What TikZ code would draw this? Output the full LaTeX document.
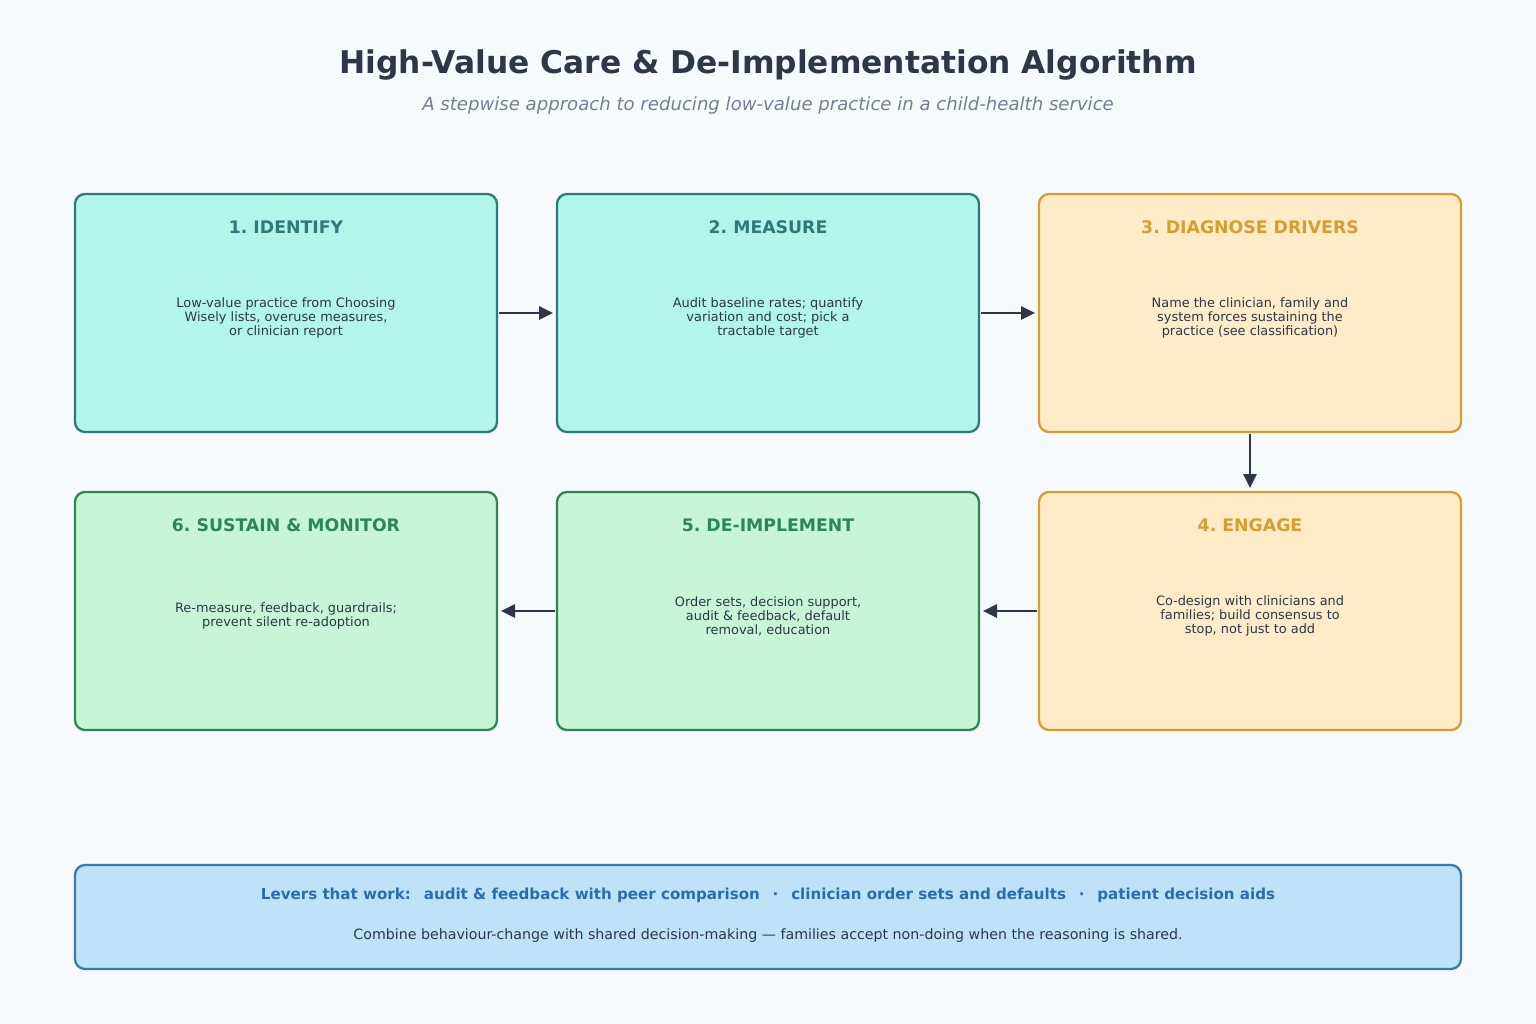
\documentclass[tikz,border=0pt]{standalone}
\usepackage{fontspec}
\setmainfont{DejaVu Sans}
\usetikzlibrary{positioning,arrows.meta,calc}
\frenchspacing

\definecolor{pagebg}{HTML}{F7FAFC}
\definecolor{inkdark}{HTML}{2D3748}
\definecolor{subgray}{HTML}{718096}
\definecolor{tealfill}{HTML}{B2F5EA}
\definecolor{tealline}{HTML}{2C7A7B}
\definecolor{amberfill}{HTML}{FEEBC8}
\definecolor{amberline}{HTML}{D69E2E}
\definecolor{greenfill}{HTML}{C6F6D5}
\definecolor{greenline}{HTML}{2F855A}
\definecolor{bluefill}{HTML}{BEE3F8}
\definecolor{blueline}{HTML}{3B78BE}
\definecolor{bluetext}{HTML}{2B6CB0}

\begin{document}
\begin{tikzpicture}[
    x=1pt, y=-1pt,
    font=\fontsize{12}{14}\selectfont,
    stepbox/.style={draw, rounded corners=10pt, line width=2.3pt, minimum width=422pt, minimum height=238pt, inner sep=0pt, outer sep=0pt},
    tealbox/.style={fill=tealfill, draw=tealline},
    amberbox/.style={fill=amberfill, draw=amberline},
    greenbox/.style={fill=greenfill, draw=greenline},
    steptitle/.style={font=\fontsize{17.3}{20}\selectfont\bfseries, inner sep=0pt},
    stepbody/.style={font=\fontsize{12.9}{14}\selectfont, align=center, text=inkdark, inner sep=0pt},
    flow/.style={draw=inkdark, line width=2.8pt, -{Triangle[length=14pt, width=13pt]}, shorten >=4pt, shorten <=2pt}
]

% page and frame
\fill[pagebg] (0,0) rectangle (1536,1024);
\useasboundingbox (0,0) rectangle (1536,1024);

\node[font=\fontsize{31.3}{36}\selectfont\bfseries, text=inkdark] (title) at (768,65) {High-Value Care \& De-Implementation Algorithm};
\node[font=\fontsize{18.1}{21}\selectfont\itshape, text=subgray] (subtitle) at (768,106) {A stepwise approach to reducing low-value practice in a child-health service};

% the six steps
\node[stepbox, tealbox] (identify) at (286,313) {};
\node[stepbox, tealbox, right=60pt of identify] (measure) {};
\node[stepbox, amberbox, right=60pt of measure] (diagnose) {};
\node[stepbox, amberbox, below=60pt of diagnose] (engage) {};
\node[stepbox, greenbox, left=60pt of engage] (deimplement) {};
\node[stepbox, greenbox, left=60pt of deimplement] (sustain) {};

\node[steptitle, text=tealline] (identify-t) at ($(identify.north)+(0,33)$) {1. IDENTIFY};
\node[steptitle, text=tealline] (measure-t) at ($(measure.north)+(0,33)$) {2. MEASURE};
\node[steptitle, text=amberline] (diagnose-t) at ($(diagnose.north)+(0,33)$) {3. DIAGNOSE DRIVERS};
\node[steptitle, text=amberline] (engage-t) at ($(engage.north)+(0,33)$) {4. ENGAGE};
\node[steptitle, text=greenline] (deimplement-t) at ($(deimplement.north)+(0,33)$) {5. DE-IMPLEMENT};
\node[steptitle, text=greenline] (sustain-t) at ($(sustain.north)+(0,33)$) {6. SUSTAIN \& MONITOR};

\node[stepbody] (identify-b) at ($(identify)+(0,5)$) {Low-value practice from Choosing\\Wisely lists, overuse measures,\\or clinician report};
\node[stepbody] (measure-b) at ($(measure)+(0,5)$) {Audit baseline rates; quantify\\variation and cost; pick a\\tractable target};
\node[stepbody] (diagnose-b) at ($(diagnose)+(0,5)$) {Name the clinician, family and\\system forces sustaining the\\practice (see classification)};
\node[stepbody] (engage-b) at ($(engage)+(0,5)$) {Co-design with clinicians and\\families; build consensus to\\stop, not just to add};
\node[stepbody] (deimplement-b) at ($(deimplement)+(0,5)$) {Order sets, decision support,\\audit \& feedback, default\\removal, education};
\node[stepbody] (sustain-b) at ($(sustain)+(0,5)$) {Re-measure, feedback, guardrails;\\prevent silent re-adoption};

\draw[flow] (identify) -- (measure);
\draw[flow] (measure) -- (diagnose);
\draw[flow] (diagnose) -- (engage);
\draw[flow] (engage) -- (deimplement);
\draw[flow] (deimplement) -- (sustain);

% levers panel
\node[draw=blueline, fill=bluefill, rounded corners=10pt, line width=2.3pt, minimum width=1386pt, minimum height=104pt, inner sep=0pt] (levers) at (768,917) {};
\node[font=\fontsize{15.1}{18}\selectfont\bfseries, text=bluetext] (levers-a) at (768,895) {Levers that work:\enspace\ audit \& feedback with peer comparison\enspace\ ·\enspace\ clinician order sets and defaults\enspace\ ·\enspace\ patient decision aids};
\node[font=\fontsize{14.2}{17}\selectfont, text=inkdark] (levers-b) at (768,936) {Combine behaviour-change with shared decision-making — families accept non-doing when the reasoning is shared.};

\end{tikzpicture}
\end{document}
